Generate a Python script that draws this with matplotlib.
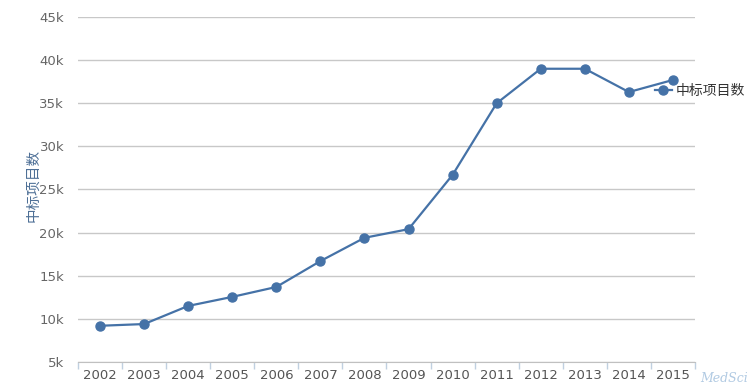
import matplotlib
matplotlib.use('Agg')
import matplotlib.pyplot as plt
import numpy as np

plt.rcParams['font.family'] = ['DejaVu Sans', 'Noto Sans CJK SC']

years = ['2002', '2003', '2004', '2005', '2006', '2007', '2008',
         '2009', '2010', '2011', '2012', '2013', '2014', '2015']
projects = [9200, 9400, 11500, 12550, 13700, 16700, 19400,
            20400, 26700, 35000, 39000, 39000, 36300, 37700]
yticks = [5000, 10000, 15000, 20000, 25000, 30000, 35000, 40000, 45000]
ytick_labels = ['5k', '10k', '15k', '20k', '25k', '30k', '35k', '40k', '45k']
series_name = '中标项目数'

line_color = '#4572A7'

fig = plt.figure(figsize=(7.47, 3.87), dpi=100)
ax = fig.add_axes([78 / 747, 1 - 362 / 387, 617 / 747, 345 / 387])

x = np.arange(len(years))
ax.plot(x, projects, color=line_color, lw=1.6, marker='o', ms=6.5,
        label=series_name, zorder=3)

ax.set_xlim(-0.5, len(years) - 0.5)
ax.set_ylim(5000, 45000)
ax.set_yticks(yticks)
ax.set_yticklabels(ytick_labels)
ax.grid(axis='y', color='#c8c8c8', lw=1)
ax.tick_params(axis='y', length=0, pad=10, labelsize=9.5, labelcolor='#666666')

ax.set_xticks(x)
ax.set_xticklabels(years)
ax.set_xticks(np.arange(len(years) + 1) - 0.5, minor=True)
ax.tick_params(axis='x', which='major', length=0, pad=5, labelsize=9.5,
               labelcolor='#555555')
ax.tick_params(axis='x', which='minor', length=5, color='#c0d0e0', width=1)

for s in ['top', 'right', 'left']:
    ax.spines[s].set_visible(False)
ax.spines['bottom'].set_color('#c0c0c0')

ax.set_ylabel(series_name, color='#4d6f96', fontsize=10.5)
ax.yaxis.set_label_coords((40 - 78) / 617, (362 - 185) / 345)

leg = ax.legend(loc='center left', bbox_to_anchor=(648 / 747, 1 - 91 / 387),
                bbox_transform=fig.transFigure, frameon=False, fontsize=10,
                handlelength=1.2, handletextpad=0.3, borderpad=0)
for t in leg.get_texts():
    t.set_color('#333333')

fig.text(700 / 747, 1 - 378 / 387, 'MedSci', color='#8fb3d6', fontsize=9,
         family='DejaVu Serif', style='italic', alpha=0.7, va='center')

fig.savefig('out.png', dpi=100)
